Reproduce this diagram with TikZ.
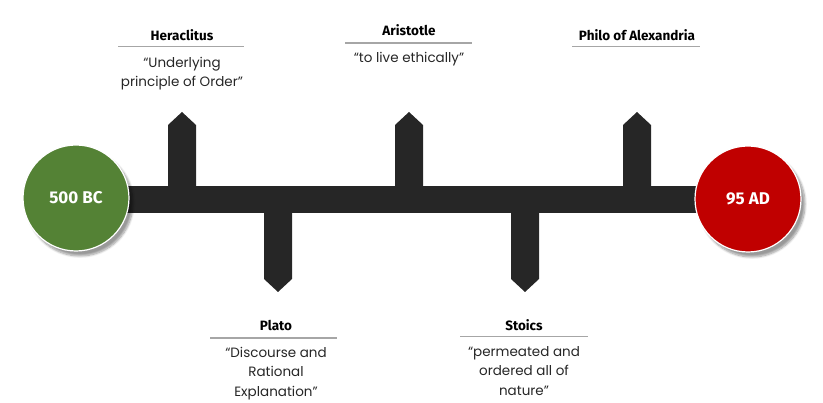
\documentclass[tikz,border=0pt]{standalone}
\usepackage{fontspec}
\setmainfont{Poppins}
\newfontfamily\headfont{Fira Sans}
\usetikzlibrary{shadows,shadows.blur}
\definecolor{barc}{HTML}{262626}
\definecolor{greenc}{HTML}{548235}
\definecolor{redc}{HTML}{C00000}
\definecolor{rulec}{HTML}{A6A6A6}
\definecolor{txtc}{HTML}{262626}
\tikzset{
  x=1pt, y=-1pt,
  circ/.style={circle, minimum size=106pt, inner sep=0pt, draw=white, line width=1.2pt,
    blur shadow={shadow xshift=4pt, shadow yshift=-5pt, shadow blur steps=8, shadow opacity=40},
    text=white, font=\headfont\bfseries\fontsize{17}{17}\selectfont},
  title/.style={font=\headfont\bfseries\fontsize{13.5}{14}\selectfont, text=black, inner sep=0pt},
  quote/.style={font=\fontsize{13.5}{19.5}\selectfont, text=txtc, align=center, inner sep=0pt, anchor=north},
  rulel/.style={draw=rulec, line width=1.2pt}
}
\begin{document}
\begin{tikzpicture}
\useasboundingbox (0,0) rectangle (823,403);
% main bar
\fill[barc] (110,186) rectangle (710,213);
% upward stems
\foreach \cx in {182,409,637}{
  \fill[barc] (\cx-14,187) -- (\cx-14,125) -- (\cx,112) -- (\cx+14,125) -- (\cx+14,187) -- cycle;
}
% downward stems
\foreach \cx in {278,525}{
  \fill[barc] (\cx-14,212) -- (\cx-14,279) -- (\cx,292) -- (\cx+14,279) -- (\cx+14,212) -- cycle;
}
% circles
\node[circ, fill=greenc] (start) at (76,198) {500 BC};
\node[circ, fill=redc] (end) at (748,199) {95 AD};
% Heraclitus
\node[title] (heraT) at (182,35) {Heraclitus};
\draw[rulel] (118,46.5) -- (244,46.5);
\node[quote] (heraQ) at (182,57) {“Underlying\\principle of Order”};
% Aristotle
\node[title] (ariT) at (409,30) {Aristotle};
\draw[rulel] (345,43) -- (472,43);
\node[quote] (ariQ) at (409,52.5) {“to live ethically”};
% Philo
\node[title] (phiT) at (637,35.5) {Philo of Alexandria};
\draw[rulel] (572,46.5) -- (700,46.5);
% Plato
\node[title] (plaT) at (276,325) {Plato};
\draw[rulel] (210,338) -- (337,338);
\node[quote] (plaQ) at (276,347) {“Discourse and\\Rational\\Explanation”};
% Stoics
\node[title] (stoT) at (524,325) {Stoics};
\draw[rulel] (460,336.5) -- (588,336.5);
\node[quote] (stoQ) at (524,346) {“permeated and\\ordered all of\\nature”};
\end{tikzpicture}
\end{document}
